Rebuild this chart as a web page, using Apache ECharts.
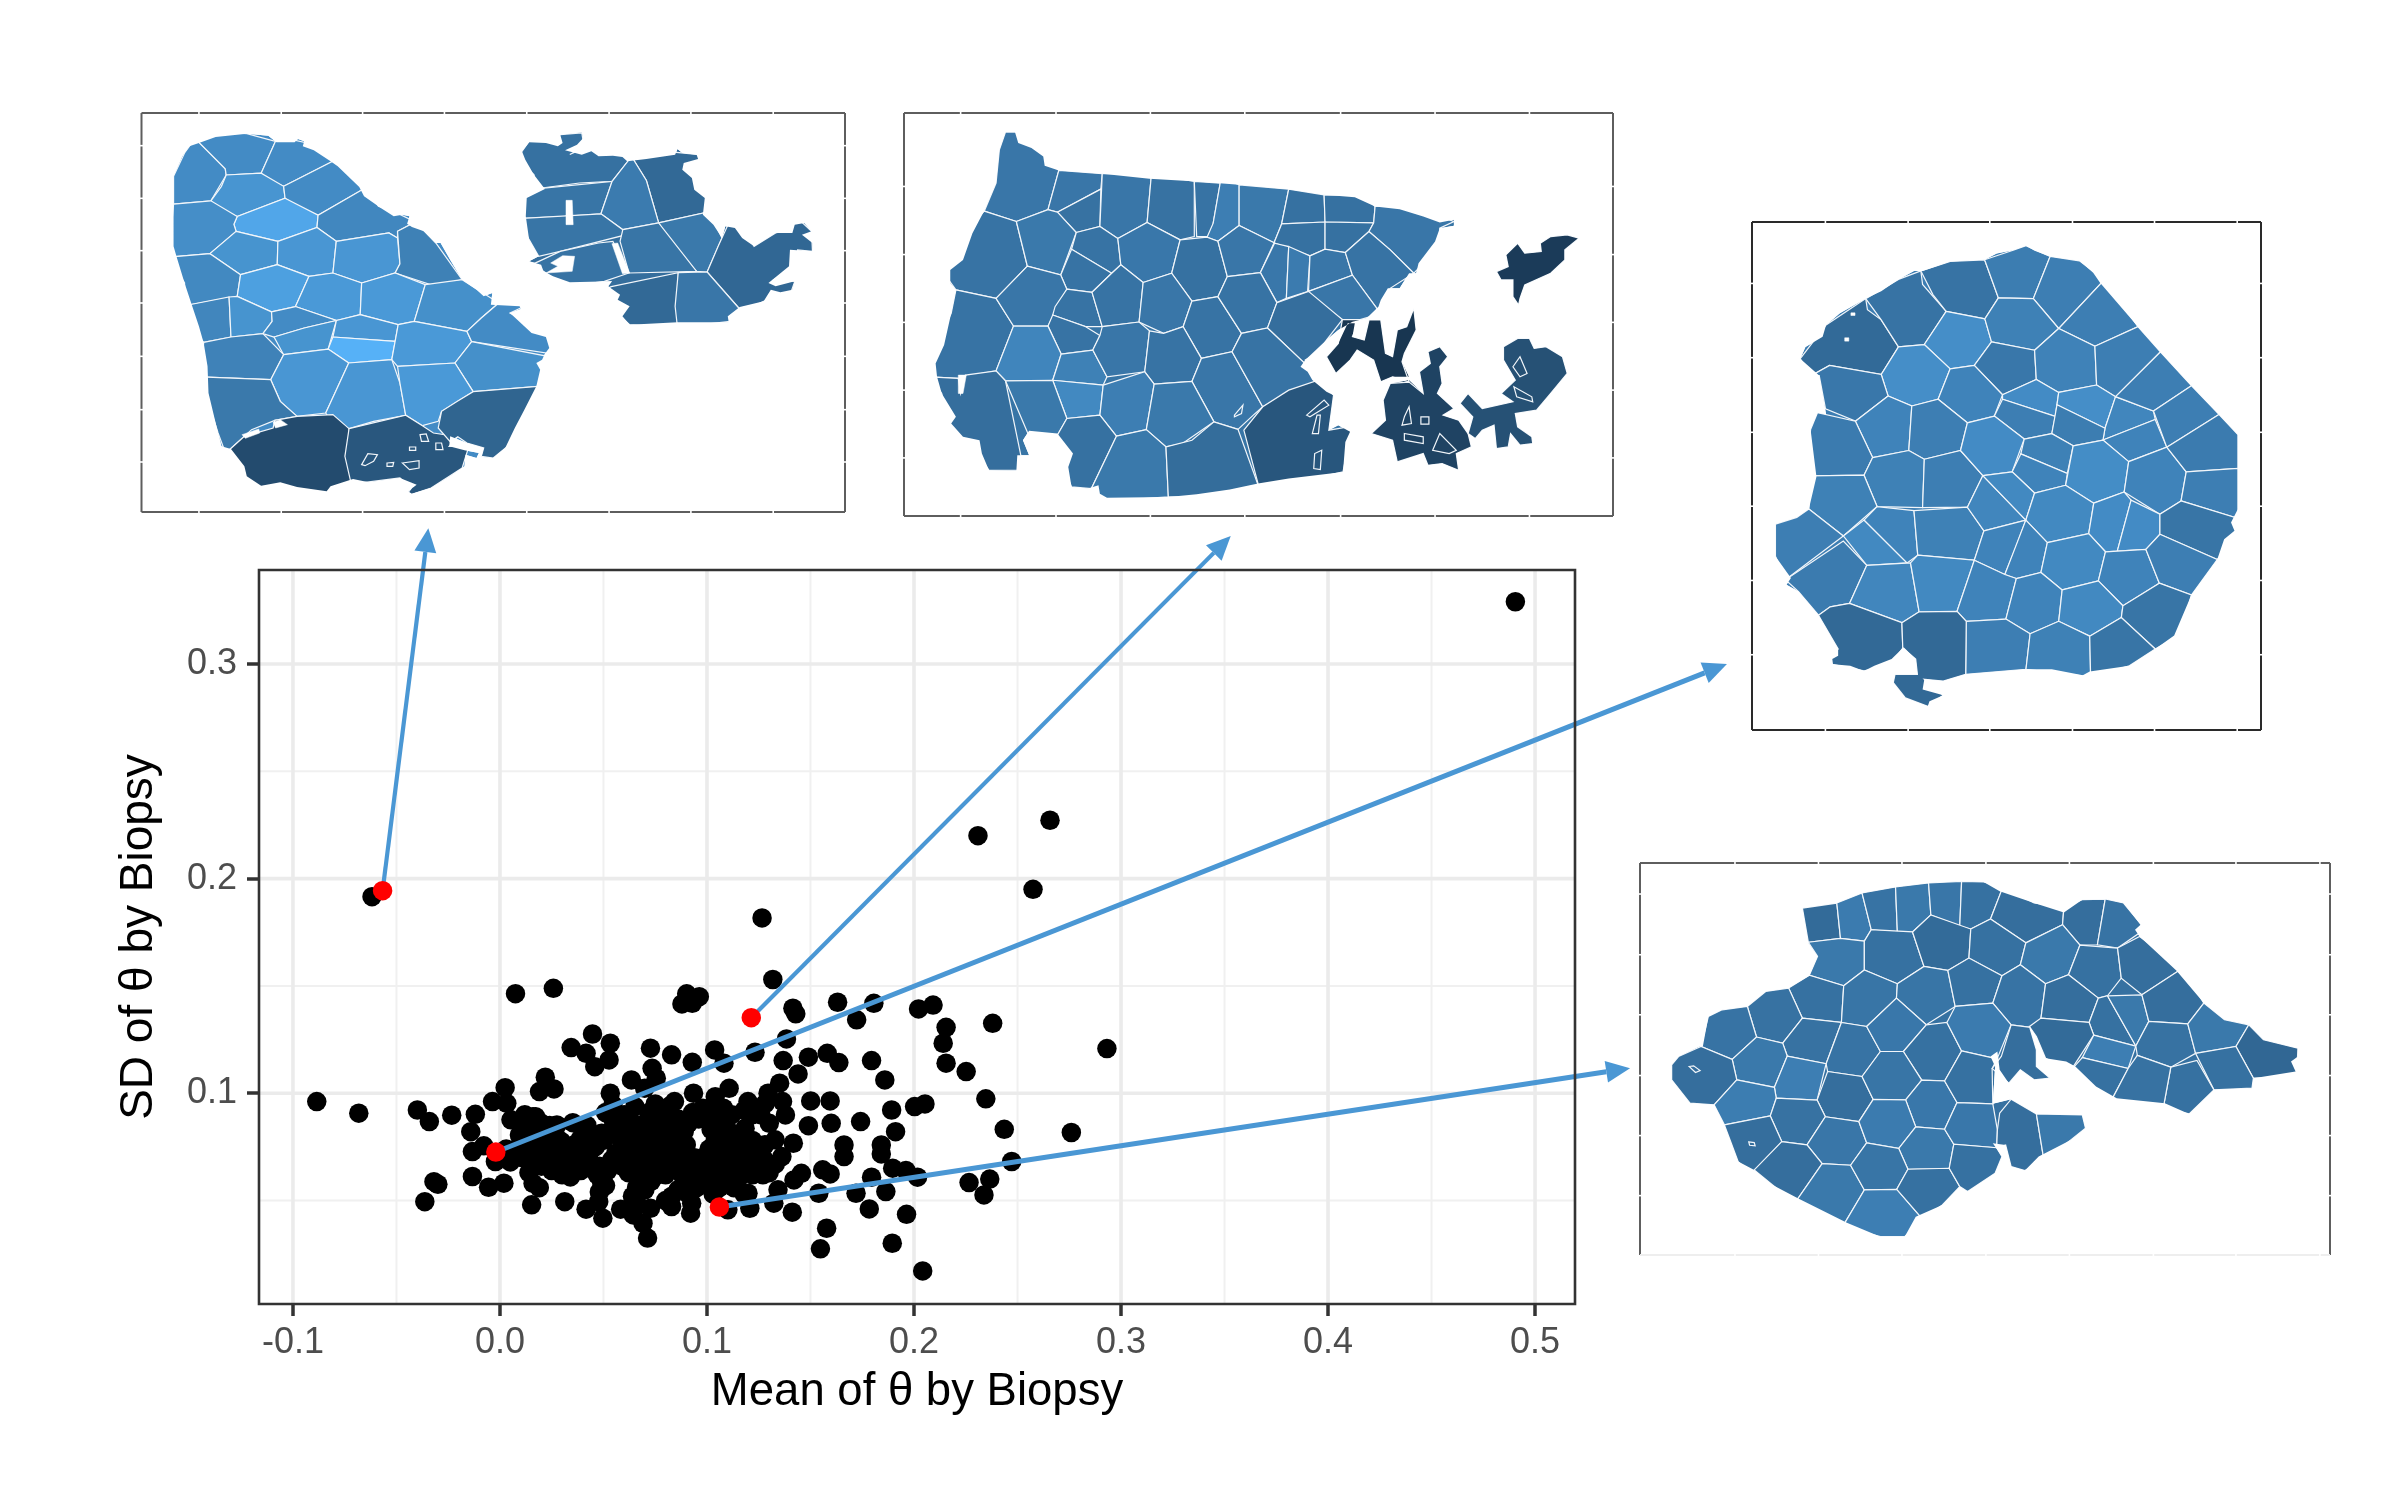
<!DOCTYPE html>
<html>
<head>
<meta charset="utf-8">
<script src="https://cdn.jsdelivr.net/npm/echarts@6/dist/echarts.min.js"></script>
<style>html,body{margin:0;padding:0;background:#fff}#c{width:2400px;height:1500px}</style>
</head>
<body>
<div id="c"></div>
<script>
// ---------- Scatter data: [mean of theta, SD of theta] per biopsy ----------
const blackPoints = [
[.4905,.329],[.2657,.2272],[.2309,.22],[.2575,.195],[.1266,.1817],[-.0618,.1916],[.1318,.153],
[.0075,.1464],[.0258,.1489],[.0902,.1463],[.0963,.145],[.0879,.1416],[.0929,.1419],[.1415,.1396],[.1429,.137],[.1631,.1424],[.1806,.1419],[.2022,.1393],[.2092,.1411],[.1723,.1342],[.2155,.1307],[.238,.1326],[.2932,.1208],[.2141,.1233],[.2155,.114],[.2252,.1101],[.2347,.0974],[.2436,.0832],[.276,.0817],[.2472,.0682],[.2266,.0584],[.2366,.06],[.2338,.0526],[.2017,.0609],[.1961,.064],[.1897,.0651],[.1964,.0436],[.1895,.0301],[.2042,.0172],[.1548,.0275],[.1578,.0371],[.1784,.0461],[.1864,.0542],[.172,.0534],[.1795,.0609],[.1911,.0821],[.1842,.0759],[.1842,.0717],[.1742,.0868],[.1892,.0922],[.2003,.0938],[.2053,.095],[.1859,.1062],[.1795,.1152],[.1637,.1143],[.1581,.1186],[.149,.1168],[.144,.109],[.1368,.1152],[.1384,.1253],[.1232,.1191],[.1082,.114],[.1037,.1202],[.0929,.1144],[.0829,.1179],[.0727,.121],[.0735,.1116],[.0755,.107],[.0635,.1062],[.0699,.1023],[.0527,.1155],[.0533,.1233],[.0447,.1276],[.0458,.1124],[.0416,.1186],[.0344,.1213],[.0219,.1075],[.0261,.102],[.0191,.1008],[.0025,.1026],[-.0036,.0961],[.0033,.0953],[-.0885,.0961],[-.0682,.0907],[-.0399,.0922],[-.0341,.0868],[-.0233,.0898],[-.0119,.0902],[-.0141,.0821],[.0053,.0876],[-.0078,.0755],[-.0133,.0728],[-.0022,.0682],[-.0133,.0612],[-.0055,.0562],[.0019,.0581],[-.0319,.0588],[-.03,.0576],[-.0363,.0495],[.0153,.048],[.0313,.0495],[.0416,.046],[.0477,.0495],[.0497,.0418],[.0583,.046],[.0644,.0433],[.0691,.0394],[.0727,.0464],[.0713,.0325],[.0829,.0472],[.0921,.0441],[.0926,.0488],[.1101,.0457],[.1207,.0464],[.1198,.0534],[.1343,.055],[.1323,.0488],[.1412,.0446],[.154,.0534],[.1559,.0643],[.1595,.0624],[.1456,.0627],[.142,.0596],[.1295,.0643],[.1362,.0705],[.1329,.0783],[.1417,.0767],[.1301,.086],[.1379,.0899],[.1501,.0964],[.1595,.0964],[.149,.0849],[.16,.086],[.1662,.0759],[.1662,.0705],[.1351,.1047],[.1295,.1],[.1365,.0961],[.1107,.1023],[.104,.0984],[.1198,.0961],[.0935,.1],[.0843,.0961],[.0768,.0907],[.0652,.0938],[.0533,.1],[.0546,.0946],[.0546,.0876],[.1184,.0837],[.1082,.0852],[.0352,.0863],[.0275,.0852],[.0172,.0891],[.0158,.0845],[.0094,.0806],[.0297,.0775],[.0394,.0744],[.0491,.0814],[.0644,.0829],
[.014,.083],[.018,.078],[.021,.074],[.024,.071],[.017,.069],[.02,.066],[.014,.063],[.016,.058],[.019,.056],[.025,.064],[.028,.068],[.031,.073],[.033,.069],[.036,.066],[.03,.062],[.034,.061],[.039,.064],[.038,.07],[.041,.068],[.043,.072],[.046,.075],[.044,.066],[.047,.062],[.049,.059],[.051,.057],[.048,.054],[.052,.064],[.054,.069],[.056,.072],[.05,.078],[.053,.082],[.056,.086],[.051,.091],[.058,.079],[.061,.076],[.063,.072],[.059,.066],[.062,.063],[.065,.067],[.067,.07],[.069,.074],[.066,.08],[.07,.078],[.073,.081],[.076,.077],[.078,.073],[.074,.069],[.071,.065],[.068,.06],[.066,.056],[.064,.052],[.066,.049],[.07,.055],[.073,.059],[.076,.062],[.079,.066],[.081,.07],[.084,.074],[.08,.08],[.083,.084],[.086,.088],[.079,.09],[.082,.094],[.086,.078],[.089,.082],[.091,.086],[.093,.091],[.096,.088],[.09,.076],[.087,.07],[.085,.065],[.088,.062],[.09,.058],[.086,.055],[.083,.052],[.08,.05],[.092,.066],[.093,.061],[.095,.056],[.091,.053],[.098,.07],[.101,.074],[.104,.078],[.102,.083],[.106,.072],[.109,.076],[.112,.079],[.108,.068],[.105,.065],[.102,.062],[.1,.066],[.107,.061],[.11,.058],[.106,.056],[.103,.053],[.112,.063],[.114,.068],[.116,.072],[.119,.075],[.122,.078],[.12,.069],[.117,.065],[.115,.06],[.113,.056],[.118,.053],[.122,.062],[.125,.066],[.124,.072],[.127,.07],[.128,.076],[.13,.063],[.133,.067],[.112,.09],[.108,.093],[.104,.092],[.1,.089],[.098,.093],[.118,.092],[.122,.09],[.126,.09],[.128,.095],[.07,.086],[.072,.091],[.075,.095],[.062,.085],[.06,.09],[.046,.08],[.042,.085],[.039,.079],[.036,.076],[.027,.08],[.024,.085],[.012,.09],[.009,.075],[.011,.07],[.007,.072],[.003,.074],[.005,.068],[.015,.073],[.016,.089],[.02,.086],[.013,.086],
[.013,.076],[.017,.075],[.02,.081],[.023,.078],[.027,.075],[.029,.071],[.032,.066],[.035,.072],[.04,.073],[.048,.066],[.074,.064],[.08,.062],[.082,.066],[.088,.073],[.094,.07],[.096,.065],[.099,.061],[.1,.058],[.103,.07],[.106,.068],[.109,.072],[.111,.068],[.113,.072],[.116,.076],[.118,.07],[.12,.065],[.123,.07],[.125,.075],[.127,.062],[.11,.083],[.106,.084],[.075,.085],[.078,.086],[.072,.084],[.06,.082],[.064,.086],[.058,.084]
];
const redPoints = [[-.0567,.1944],[.1214,.1352],[-.002,.0726],[.106,.047]];
const arrowTargets = [[-.0346,.3633],[.353,.3597],[.5927,.3],[.5459,.1117]];
const xTicks = [-0.1,0,0.1,0.2,0.3,0.4,0.5];
const yTicks = [0.1,0.2,0.3];
const xMinor = [-0.05,0.05,0.15,0.25,0.35,0.45];
const yMinor = [0.05,0.15,0.25];
const xTitle = 'Mean of θ by Biopsy';
const yTitle = 'SD of θ by Biopsy';

// ---------- Inset tissue maps: flat [x,y,...] outlines in each inset's own units; shade = fill value 0..1, -1 = gap ----------
const cells1 = [
[165,135,222,210,222,225,190,305,112,312,112,230,135,160],
[165,130,200,110,265,102,325,125,295,222,222,225,218,205],
[325,125,370,130,400,150,440,190,342,258,310,240,295,218],
[222,228,295,222,342,262,345,295,245,350,205,325,190,300,212,260],
[440,195,500,265,415,345,370,320,345,295,342,260],
[345,297,415,350,405,380,330,425,245,395,238,372,245,352],
[112,315,190,305,245,350,238,375,240,395,188,462,112,470],
[500,270,540,320,575,370,605,378,580,395,580,415,562,400,452,425,415,385,412,345],
[243,395,330,425,328,495,252,525,188,462],
[330,425,415,385,452,425,445,520,395,530,330,495],
[452,425,562,400,580,415,585,495,575,520,505,550,445,520],
[580,395,605,380,660,430,715,540,660,560,575,520,585,490],
[118,470,188,462,252,525,245,590,148,615,135,550],
[252,525,328,495,395,530,370,620,315,635,245,590],
[395,530,445,520,505,550,502,645,450,660,365,620],
[505,550,575,520,638,555,615,665,580,675,502,645],
[638,555,715,540,775,605,755,655,725,695,615,665],
[148,615,228,592,232,712,175,728,168,680],
[228,592,245,590,315,635,318,665,298,700,232,712],
[320,640,365,622,452,660,385,685,322,712,298,700,318,665],
[322,712,385,685,452,670,435,750,342,765],
[455,660,502,645,582,675,575,725,445,712],
[445,712,575,725,568,780,478,790,435,745],
[582,675,615,665,725,695,735,725,700,790,580,800,568,780],
[175,728,232,712,300,705,342,765,315,840,185,830],
[725,695,755,655,775,612,835,622,815,640,890,715,895,750,890,762,735,725],
[735,728,880,765,875,855,738,875,700,790],
[342,765,435,750,478,790,430,940,370,950,335,905,315,840],
[478,790,568,780,585,850,597,945,530,965,480,985,445,975,430,940],
[580,800,700,790,738,875,672,935,665,965,632,978,597,945,585,850],
[185,832,315,840,335,905,370,950,322,962,275,990,228,1040,205,1000],
[228,1045,260,1010,320,985,325,962,370,950,445,945,478,988,490,1135,440,1175,370,1160,290,1158,260,1120,240,1075],
[478,988,597,950,632,978,655,1000,690,1010,688,1040,725,1055,715,1105,650,1165,605,1180,615,1155,585,1135,488,1135,470,1070],
[738,878,870,858,860,890,820,1010,780,1075,755,1070,760,1045,725,1030,685,1010,690,995,665,985,672,935,705,905],
[505,1095,518,1062,538,1065,530,1085,512,1098],[590,1090,625,1083,625,1105,605,1110],[627,1005,640,1003,645,1025,630,1025],[660,1030,672,1030,675,1050,660,1050],[605,1042,618,1042,618,1052,605,1052],[558,1090,572,1088,570,1100,558,1100],
[840,155,860,130,900,140,925,135,920,105,965,100,960,135,930,150,980,165,1035,170,1050,185,1030,245,960,250,890,255,865,225,845,180],
[1055,175,1100,185,1160,160,1205,170,1175,205,1195,240,1220,290,1218,345,1128,365,1100,240],
[850,355,855,290,890,258,1025,245,1005,340,930,350],
[1052,190,1100,245,1125,365,1125,375,1050,390,1005,345,1030,245],
[850,355,1005,342,1050,390,1050,408,920,450,875,470,855,420],
[1125,370,1218,347,1258,415,1228,515,1205,515,1150,430],
[1052,390,1125,372,1205,515,1065,520,1045,425],
[858,485,920,460,1000,430,1030,425,1062,520,1030,545,940,545,885,515],
[1270,380,1290,400,1325,440,1370,400,1405,395,1420,370,1445,395,1447,455,1395,450,1400,500,1360,550,1410,545,1395,575,1345,605,1295,620,1228,518,1250,440],
[1030,525,1165,518,1160,665,1065,675,1050,645,1065,615,1040,590,1022,560],
[1168,520,1225,518,1295,622,1270,665,1170,665,1160,620],
[932,302,945,302,947,375,932,375],[1028,432,1040,430,1065,520,1050,522],[900,490,925,468,950,470,945,515,890,520,915,500],[255,1005,290,988,292,1000,262,1016],[320,968,335,960,350,975,325,985]
];
const shades1 = [.72,.72,.72,.79,.72,.92,.74,.69,.78,.8,.8,.64,.7,.87,.82,.82,.75,.68,.78,.72,.78,.8,1,.82,.65,.72,.75,.8,.8,.82,.58,.24,.33,.43,.33,.33,.33,.33,.33,.33,.52,.46,.55,.6,.55,.58,.55,.54,.45,.46,.56,-1,-1,-1,-1,-1];
const outlines1 = [
[165,130,200,112,265,102,310,108,327,128,365,128,372,118,385,125,382,140,405,152,440,185,455,200,500,262,510,290,545,325,572,350,590,345,605,350,600,372,610,382,635,395,660,430,670,430,690,480,715,540,745,570,760,590,778,580,775,615,835,620,838,628,815,640,860,700,890,712,897,745,888,762,882,780,870,790,878,810,870,860,845,930,825,985,805,1045,780,1075,755,1072,760,1045,725,1030,690,1010,688,1040,720,1052,750,1060,745,1075,722,1065,720,1100,690,1130,650,1165,610,1182,602,1175,620,1155,585,1135,520,1148,487,1138,440,1160,432,1175,370,1162,335,1148,295,1158,265,1130,260,1100,232,1048,212,1040,205,1000,185,880,183,800,175,730,165,680,150,615,135,550,118,470,112,440,112,230,130,170,145,140],
[840,155,855,128,890,130,915,140,925,130,920,105,965,98,968,115,955,135,930,152,965,165,985,155,1000,170,1030,168,1050,172,1060,185,1100,178,1160,165,1165,148,1175,160,1205,165,1208,178,1178,190,1175,210,1195,235,1200,270,1222,295,1218,345,1240,375,1258,415,1265,380,1285,385,1300,415,1325,440,1370,400,1405,400,1410,375,1430,370,1445,395,1425,405,1447,430,1447,455,1400,450,1398,500,1355,550,1370,560,1410,545,1405,570,1380,578,1360,570,1345,605,1295,622,1270,650,1272,668,1165,668,1065,675,1050,650,1065,620,1040,600,1045,585,1020,560,1028,545,940,548,905,530,885,515,880,495,855,485,875,470,855,420,848,350,850,295,888,268,865,225,847,180]
];
const outlineShades1 = [.72,.5];

const cells2 = [
[245,97,265,100,325,165,330,200,358,212,335,330,268,365,200,333,225,250,232,150],
[358,212,450,222,447,268,355,335,335,328],
[447,268,445,380,395,398,355,338],
[450,222,553,238,545,368,483,415,445,380],
[553,238,645,245,645,410,615,420,545,368],
[645,245,700,250,680,410,650,410],
[700,250,740,255,740,375,695,422,672,412,685,370],
[740,255,845,268,830,370,812,428,740,378],
[845,268,920,285,922,368,830,372],
[920,285,1000,300,1028,320,1025,367,922,362],
[830,375,922,368,922,448,890,468,815,428],
[922,368,1025,370,1015,395,965,458,922,448],
[1028,320,1080,330,1165,365,1195,365,1165,385,1150,430,1110,520,1060,450,1015,395,1025,370],
[200,335,268,365,290,498,225,595,140,570,130,515,160,470,178,400],
[268,365,335,330,355,338,395,398,362,525,292,498],
[395,398,445,380,483,415,488,490,470,520,385,448],
[385,448,470,520,430,575,375,565,362,525],
[483,418,545,368,615,420,597,520,540,550,490,495],
[615,420,672,412,695,425,715,530,695,590,640,605,597,520],
[695,425,740,378,815,430,785,518,715,530],
[815,430,845,440,840,595,820,608,785,518],
[845,440,890,468,885,575,840,595],
[890,468,922,448,965,458,980,525,888,570],
[965,458,1015,395,1060,450,1110,520,1060,565,1030,625,1012,620,980,525],
[888,575,980,528,1010,620,990,665,965,665,890,590],
[140,570,225,595,262,678,225,810,175,825,145,835,105,828,100,790,120,730,130,640],
[225,595,292,500,362,525,375,570,335,675,262,678],
[375,568,425,578,450,680,415,680,345,645,350,620],
[345,645,415,680,445,708,430,750,365,762,335,680],
[430,578,470,520,490,498,535,545,527,665,450,680],
[535,548,597,520,640,600,620,680,580,700,530,665],
[640,605,695,590,745,700,725,755,660,775,622,680],
[695,590,715,530,785,518,820,608,800,682,745,700],
[820,608,885,578,965,665,925,720,865,790,800,685],
[262,678,335,680,362,762,345,838,245,842,225,812],
[362,762,430,750,460,830,452,855,345,840],
[450,680,527,668,550,690,540,815,460,830,430,750,445,705],
[550,695,580,700,622,680,660,775,640,842,560,852,540,815],
[660,775,725,755,790,920,770,945,735,985,690,965,640,845],
[725,755,745,700,800,685,865,790,890,855,835,885,790,920],
[345,842,452,855,445,945,375,955],
[100,830,145,835,150,880,160,825,225,815,245,842,275,1110,210,1110,190,1040,130,975,110,880],
[245,842,345,842,375,955,350,1002,295,995,270,1040],
[452,855,540,815,560,852,545,985,480,1008,445,945],
[560,852,640,845,680,965,620,1030,585,1040,540,990],
[375,955,445,945,480,1008,445,1160,385,1160,380,1095,388,1050,355,1000],
[480,1008,545,990,585,1040,590,1190,460,1190,445,1165],
[585,1040,640,1020,690,965,740,990,778,1155,690,1172,590,1190],
[750,990,790,920,845,870,895,855,940,885,930,990,970,990,960,1115,845,1130,780,1150],
[880,780,930,740,925,760,930,790,890,815],
[1285,515,1310,500,1305,465,1330,430,1345,460,1380,455,1378,430,1400,410,1435,405,1460,415,1430,450,1430,480,1400,520,1345,555,1335,595,1332,615,1320,590,1320,540,1295,540],
[970,670,985,670,980,710,1005,720,1015,660,1040,660,1050,760,1065,770,1075,690,1095,680,1110,625,1115,690,1090,760,1085,785,1100,830,1065,830,1040,845,1025,780,990,750,975,780,945,820,925,770,950,730],
[1060,850,1100,840,1130,880,1122,815,1145,790,1140,755,1165,740,1182,770,1165,800,1170,850,1160,880,1195,925,1172,945,1205,960,1225,1000,1232,1040,1200,1060,1205,1110,1170,1090,1140,1095,1130,1060,1075,1085,1065,1020,1020,1000,1050,960,1045,900],
[1208,910,1225,880,1255,925,1320,905,1295,880,1325,840,1300,780,1300,740,1330,715,1355,715,1365,745,1390,740,1425,770,1435,820,1400,880,1370,930,1325,940,1330,980,1360,1010,1362,1030,1335,1035,1315,1000,1310,1040,1285,1045,1280,975,1255,990,1240,1015,1225,1000,1235,950],
[883,945,920,900,930,915,890,950],[895,1000,905,945,912,945,908,1000],[898,1105,900,1060,915,1050,912,1108],[1090,950,1100,920,1105,970,1085,975],[1125,950,1142,950,1142,972,1125,972],[1090,1000,1130,1010,1130,1030,1090,1020],[1150,1050,1165,1000,1200,1050,1185,1060],[1320,800,1335,770,1350,820,1335,830],[1322,860,1360,890,1362,905,1328,890],[730,945,748,915,745,940,730,950],
[145,825,162,825,155,880,145,880]
];
const shades2 = [.56,.56,.53,.56,.53,.54,.62,.58,.52,.52,.52,.52,.56,.54,.58,.54,.54,.57,.52,.56,.57,.6,.56,.54,.56,.54,.56,.54,.54,.54,.56,.54,.54,.5,.67,.64,.56,.54,.56,.54,.7,.5,.58,.62,.58,.52,.58,.49,.32,.5,.12,.08,.18,.28,.32,.32,.32,.18,.18,.18,.18,.28,.28,.54,-1];
const outlines2 = [
[245,97,265,97,272,130,300,145,325,170,328,198,358,212,450,222,550,237,650,245,740,255,845,268,920,285,985,292,1028,320,1080,328,1130,350,1165,368,1195,360,1195,378,1165,385,1155,425,1120,490,1115,520,1100,520,1080,565,1055,565,1040,600,1035,620,1010,655,980,665,950,690,925,720,880,780,870,800,885,815,895,840,925,875,940,885,930,990,950,975,975,995,965,1025,960,1115,845,1135,780,1150,720,1168,650,1182,590,1190,460,1192,445,1180,442,1155,420,1165,385,1160,378,1100,388,1060,355,1000,295,992,282,1020,295,1065,270,1065,268,1112,210,1110,195,1060,190,1020,155,1010,130,970,140,950,110,880,100,830,97,790,115,735,130,640,140,570,128,550,128,510,155,480,175,400,200,333,225,250,232,150],
cells2[50],cells2[51],cells2[52],cells2[53]
];
const outlineShades2 = [.55,.12,.08,.18,.28];

const cells3 = [
[175,440,250,340,365,262,370,295,410,325,460,405,410,485,260,460,225,470],
[365,262,460,205,525,180,530,220,595,298,535,398,460,405,410,325],
[525,180,610,152,710,147,750,260,710,322,600,300,560,250],
[710,147,795,118,830,105,900,137,852,262,750,260],
[900,137,985,150,1045,215,925,350,850,262],
[600,302,710,322,730,390,680,460,610,470,535,398],
[750,260,852,262,925,350,855,415,730,390,712,322],
[1045,218,1155,345,1030,403,925,350],
[460,405,535,398,610,470,575,560,500,580,430,550,410,490],
[730,390,855,415,860,500,762,545,680,460],
[855,415,925,352,1030,403,1035,518,925,540,860,500],
[1030,403,1155,345,1220,420,1090,550,1035,518],
[230,490,225,470,260,460,410,485,430,550,335,625,245,605],
[610,470,680,460,762,545,735,610,660,630,575,560],
[762,550,860,505,925,540,915,610,762,560],
[925,540,1035,518,1090,555,1060,645,920,575],
[1090,555,1200,595,1205,620,1055,680,1060,645],
[1220,420,1310,520,1200,595,1090,550],
[335,625,430,552,498,580,490,712,385,733],
[498,580,575,560,660,630,640,712,535,738,490,712],
[745,610,762,560,915,612,905,662,825,678],
[920,578,1058,648,1052,682,965,698,905,662],
[1055,680,1205,620,1238,702,1128,745],
[1200,595,1310,520,1390,605,1238,702],
[205,650,225,600,335,625,385,733,360,785,225,785,215,720],
[385,733,490,712,535,738,530,880,398,878,360,785],
[535,738,640,712,705,785,660,880,530,882],
[640,712,660,630,735,610,825,678,790,775,705,785],
[825,678,905,662,968,698,950,780,815,722],
[815,722,950,780,945,815,855,838,790,775],
[968,698,1052,682,1128,745,1115,835,1020,868,945,815],
[1128,745,1238,702,1295,775,1280,860,1220,900,1115,835],
[1240,702,1390,605,1445,665,1445,765,1295,775],
[1295,775,1445,765,1445,885,1430,905,1280,862],
[222,785,360,785,398,878,300,965,200,885],
[103,930,165,910,200,885,300,965,148,1085,103,1025],
[300,965,360,918,480,1045,368,1052],
[360,918,398,878,505,890,515,1022,490,1045],
[505,890,660,880,708,950,680,1037,515,1022],
[660,880,705,790,828,918,708,950],
[705,785,790,775,855,838,830,918],
[855,838,945,815,1030,868,1012,958,892,985,830,918],
[1030,868,1115,835,1135,858,1095,1010,1062,1012,1012,958],
[1135,860,1218,902,1218,960,1178,1005,1095,1010],
[1280,862,1430,905,1430,960,1385,1035,1220,960,1218,900],
[708,950,830,918,800,1000,768,1078,680,1037],
[830,918,892,985,870,1070,802,1090,768,1080],
[892,985,1012,958,1060,1012,1040,1098,935,1125,875,1075],
[1060,1012,1178,1005,1215,1105,1112,1172,1040,1098],
[1218,960,1385,1035,1310,1140,1218,1105,1178,1005],
[145,1085,300,980,368,1052,318,1165,262,1175,228,1200,170,1130],
[368,1052,495,1045,520,1190,470,1222,318,1165],
[495,1045,518,1022,680,1037,630,1190,520,1190],
[680,1037,770,1080,802,1092,770,1212,655,1218,630,1185],
[802,1092,875,1075,935,1125,925,1218,842,1255,775,1210],
[935,1125,1040,1098,1110,1172,1105,1208,1015,1262,925,1218],
[1218,1105,1310,1140,1260,1250,1205,1300,1110,1205,1112,1172],
[655,1218,770,1212,842,1255,830,1360,655,1375],
[842,1255,925,1218,1015,1262,1015,1365,830,1360],
[1015,1262,1105,1208,1205,1300,1130,1350,1015,1365],
[228,1200,262,1175,318,1165,470,1222,470,1300,430,1335,360,1365,270,1340,285,1300],
[470,1222,520,1190,630,1190,660,1218,655,1375,590,1395,535,1390,590,1437,545,1470,480,1445,445,1400,450,1375,515,1375,510,1330,475,1295],
[322,304,334,304,334,312,322,312],[304,378,316,378,316,388,304,388]
];
const shades3 = [.47,.54,.54,.61,.62,.74,.64,.62,.74,.57,.65,.62,.57,.66,.72,.74,.68,.62,.66,.62,.62,.61,.66,.62,.6,.64,.62,.72,.64,.66,.73,.66,.6,.62,.64,.62,.7,.66,.64,.68,.7,.7,.72,.72,.55,.66,.66,.7,.66,.62,.6,.68,.7,.66,.66,.7,.55,.62,.64,.55,.46,.46,-1,-1];
const outlines3 = [
[175,440,190,405,240,375,250,340,290,305,365,262,410,240,460,205,505,180,530,180,610,152,710,147,745,128,795,118,830,105,855,120,900,137,985,150,1025,185,1045,215,1155,345,1220,420,1310,520,1390,605,1445,665,1445,885,1425,925,1435,950,1405,975,1385,1035,1310,1140,1260,1260,1205,1300,1130,1350,1015,1367,995,1378,905,1360,830,1360,655,1375,590,1395,535,1390,530,1420,590,1437,550,1455,545,1470,480,1445,445,1400,450,1375,515,1375,510,1330,475,1295,440,1330,390,1350,360,1365,320,1350,270,1345,268,1330,285,1320,285,1300,228,1200,170,1130,135,1110,148,1090,103,1025,103,930,165,910,200,885,222,790,205,650,225,600,250,605,230,490]
];
const outlineShades3 = [.62];

const cells4 = [
[375,175,450,160,458,265,388,275],
[450,160,505,130,525,240,510,272,458,265],
[505,130,578,112,582,248,525,240],
[578,112,650,100,655,195,615,245,582,248],
[650,100,722,95,718,230,655,195],
[722,95,770,97,805,128,785,208,742,238,718,230],
[805,125,880,160,945,190,942,225,862,278,785,208],
[945,190,985,150,1035,148,1018,285,980,285,942,225],
[1035,148,1075,160,1112,230,1062,295,1018,285],
[388,280,458,268,510,275,510,360,465,408,390,375,408,320],
[510,275,525,240,615,250,640,350,582,402,510,360],
[615,245,655,197,742,238,738,325,692,362,640,350],
[742,238,785,208,862,280,850,345,810,378,738,325],
[862,280,942,225,980,285,955,375,905,402,850,345],
[980,288,1062,295,1070,385,1040,438,1020,445,955,375],
[1062,295,1110,260,1190,362,1115,435,1070,385],
[345,415,390,378,465,408,460,518,375,505],
[465,408,510,362,582,402,580,445,515,530,460,518],
[582,402,640,350,692,362,708,470,645,525,580,445],
[692,362,738,325,810,378,790,460,708,470],
[810,378,850,345,905,402,895,505,855,525,830,522,790,460],
[905,402,955,375,1020,445,1000,518,895,505],
[1020,445,1040,438,1100,585,1010,555,1000,518],
[1040,438,1115,435,1130,515,1100,585],
[1190,365,1250,460,1215,522,1130,515,1115,435],
[255,470,295,425,345,415,375,505,332,580,275,560],
[375,505,460,518,425,640,342,618,332,580],
[460,518,515,530,545,605,505,680,430,665,425,640],
[515,530,580,445,645,525,595,605,545,605],
[645,525,690,518,722,600,685,690,635,690,595,605],
[708,470,790,460,830,525,775,615,722,600,690,518],
[170,500,200,480,255,470,275,560,222,628,158,590],
[222,628,275,565,332,580,342,618,312,710,232,690],
[342,620,430,645,405,750,318,745,312,712],
[430,665,505,680,528,748,498,815,425,800,408,750],
[505,680,545,605,595,605,635,690,600,750,530,748],
[635,692,685,695,712,758,685,838,622,830,600,750],
[685,695,722,610,775,615,795,650,790,762,712,758],
[795,605,830,528,855,525,870,530,885,600,885,650,915,685,880,690,850,660,825,700,805,660],
[895,505,1000,518,1010,555,968,650,905,625,885,560,870,530],
[1010,558,1105,595,1085,655,985,622],
[985,625,1085,658,1058,735,1020,725,970,650],
[1130,515,1215,522,1232,610,1178,652,1105,615,1102,590],
[1250,460,1295,510,1348,525,1320,590,1232,610,1215,522],
[1348,525,1380,570,1455,595,1450,670,1358,685,1320,590],
[1232,612,1320,590,1358,685,1355,715,1272,720],
[1178,652,1235,632,1272,720,1218,792,1165,760],
[1105,618,1178,652,1162,762,1060,745,1085,655],
[90,645,105,620,150,590,222,630,232,690,182,765,130,760,90,690],
[232,690,318,715,318,745,305,798,205,825,183,765],
[318,745,408,752,425,800,385,885,330,875,305,798],
[425,802,498,815,515,878,480,945,418,940,385,885],
[498,815,530,750,600,750,622,830,585,895,515,878],
[622,832,685,838,705,882,695,955,605,958,585,895],
[712,758,790,762,800,840,785,872,705,882,685,838],
[205,825,305,798,330,875,285,960,235,935,220,880],
[330,875,385,885,418,940,375,1040,310,1005,270,960],
[418,943,480,948,510,1020,472,1115,365,1045],
[480,945,515,880,585,897,605,958,580,1018,510,1020],
[510,1020,580,1018,618,1100,598,1160,545,1160,472,1118],
[605,958,695,955,718,1010,680,1065,622,1100,582,1018],
[695,955,705,885,785,872,810,920,795,970,735,1025,718,1010],
[805,790,830,748,885,792,888,925,860,962,830,950,818,885,790,880,800,840],
[885,792,985,795,992,835,960,870,890,920],
[128,650,138,648,152,662,142,668],[258,876,270,878,272,888,260,886]
];
const shades4 = [.48,.6,.54,.58,.56,.52,.5,.5,.54,.58,.52,.48,.52,.58,.52,.5,.52,.55,.55,.52,.54,.5,.52,.58,.5,.53,.53,.54,.57,.52,.6,.54,.58,.62,.5,.55,.57,.52,.5,.48,.62,.52,.53,.58,.45,.52,.52,.53,.5,.61,.53,.56,.6,.58,.57,.5,.5,.58,.55,.62,.52,.52,.5,.58,.5,.5];
const outlines4 = [
[375,175,450,160,505,130,578,112,650,100,722,95,770,97,805,125,880,160,945,188,985,150,1035,148,1075,160,1112,225,1100,240,1110,260,1190,362,1250,460,1295,510,1348,525,1380,570,1455,595,1455,620,1440,635,1450,665,1358,685,1355,715,1272,720,1218,792,1165,760,1060,745,1015,710,970,650,950,635,905,625,885,560,870,530,885,600,885,650,915,685,880,690,850,660,825,700,805,660,800,605,785,620,795,650,790,762,830,748,885,792,985,795,992,835,960,870,890,920,860,962,830,950,818,885,790,880,810,920,795,970,735,1025,718,1010,680,1065,622,1100,598,1160,545,1160,472,1118,365,1045,310,1005,270,960,235,935,220,880,205,825,183,765,130,760,90,690,90,645,105,620,150,590,158,590,170,500,200,480,255,470,295,425,345,415,390,378,408,320,388,280]
];
const outlineShades4 = [.52];

const insetFrames = {
  top1:[165,337,507,678,850,1022,1193,1365], side1:[138,296,453,610,770,930,1087],
  top2:[150,352,552,752,955,1155,1355], side2:[260,464,667,870,1073],
  top3:[248,488,725,965,1203,1443], side3:[217,437,658,877,1097,1317],
  top4:[228,410,592,775,957,1140,1320,1503], side4:[133,315,495,677,857,1037]
};

// ---------- Layout and styling ----------
const lowColor = '#132B43', highColor = '#56B1F7';
const arrowColor = '#4A97D4';
const arrowWidths = [4.2,4.2,5,5];
const fontFamily = '"Liberation Sans", Arial, sans-serif';
const insets = [
  {cells:cells1,shades:shades1,outlines:outlines1,oshades:outlineShades1,left:141.5,top:113,width:703.5,height:399,xr:[45,1515],yr:[40,1237],tx:insetFrames.top1,ty:insetFrames.side1,color:'#5e5e5e',bottom:'#5e5e5e'},
  {cells:cells2,shades:shades2,outlines:outlines2,oshades:outlineShades2,left:904,top:113,width:709,height:403,xr:[30,1532],yr:[40,1247],tx:insetFrames.top2,ty:insetFrames.side2,color:'#5e5e5e',bottom:'#5e5e5e'},
  {cells:cells3,shades:shades3,outlines:outlines3,oshades:outlineShades3,left:1752,top:222,width:509,height:508,xr:[35,1512],yr:[35,1540],tx:insetFrames.top3,ty:insetFrames.side3,color:'#2a2a2a',bottom:'#2a2a2a'},
  {cells:cells4,shades:shades4,outlines:outlines4,oshades:outlineShades4,left:1640,top:863,width:690,height:392,xr:[21,1525],yr:[40,1215],tx:insetFrames.top4,ty:insetFrames.side4,color:'#5e5e5e',bottom:'#eeeeee'}
];
const shadeColor = s => echarts.color.lerp(s,[lowColor,highColor]);
const isMainCell = c => {
  let a=1e9,b=-1e9,d=1e9,e=-1e9;
  for(let i=0;i<c.length;i+=2){a=Math.min(a,c[i]);b=Math.max(b,c[i]);d=Math.min(d,c[i+1]);e=Math.max(e,c[i+1]);}
  return b-a>60&&e-d>60;
};

// Neighbouring cells were read separately, so join corners that lie close together.
function joinCorners(cells, shades, reach){
  const refs=[];
  const out=cells.map((c,k)=>{
    const copy=c.slice();
    if(shades[k]>=0&&isMainCell(c))for(let i=0;i<c.length;i+=2)refs.push([copy,i]);
    return copy;
  });
  const used=new Set();
  refs.forEach((r,i)=>{
    if(used.has(i))return;
    const group=[r];used.add(i);
    refs.forEach((q,j)=>{
      if(used.has(j))return;
      if(Math.hypot(q[0][q[1]]-r[0][r[1]],q[0][q[1]+1]-r[0][r[1]+1])<reach){group.push(q);used.add(j);}
    });
    const mx=group.reduce((s,q)=>s+q[0][q[1]],0)/group.length,my=group.reduce((s,q)=>s+q[0][q[1]+1],0)/group.length;
    group.forEach(q=>{q[0][q[1]]=mx;q[0][q[1]+1]=my;});
  });
  return out;
}

// Corners on the coast are carried just past the silhouette, so the white mask trims their outer edges.
function carryPastCoast(cells, shades, outlines, near, beyond){
  const inside=(x,y,o)=>{
    let hit=false;
    for(let i=0,n=o.length/2,j=n-1;i<n;j=i++){
      const xi=o[2*i],yi=o[2*i+1],xj=o[2*j],yj=o[2*j+1];
      if((yi>y)!==(yj>y)&&x<(xj-xi)*(y-yi)/(yj-yi)+xi)hit=!hit;
    }
    return hit;
  };
  return cells.map((c,k)=>{
    if(shades[k]<0||!isMainCell(c))return c;
    const out=c.slice();
    for(let v=0;v<c.length;v+=2){
      const x=c[v],y=c[v+1];
      let best=1e9,bx=x,by=y,bo=null;
      outlines.forEach(o=>{
        for(let i=0,n=o.length/2;i<n;i++){
          const ax=o[2*i],ay=o[2*i+1],cx=o[(2*i+2)%o.length],cy=o[(2*i+3)%o.length];
          const dx=cx-ax,dy=cy-ay,t=Math.max(0,Math.min(1,((x-ax)*dx+(y-ay)*dy)/(dx*dx+dy*dy||1)));
          const px=ax+t*dx,py=ay+t*dy,dd=Math.hypot(x-px,y-py);
          if(dd<best){best=dd;bx=px;by=py;bo=o;}
        }
      });
      if(best<near&&best>0.5){
        const sign=inside(x,y,bo)?1:-1;
        out[v]=bx+sign*(bx-x)/best*beyond;
        out[v+1]=by+sign*(by-y)/best*beyond;
      }
    }
    return out;
  });
}

const grids = [{left:259,top:570,width:1316,height:734}];
const xAxes = [{
  type:'value',gridIndex:0,min:-0.1164,max:0.5193,position:'bottom',
  axisLine:{show:false,onZero:false},splitLine:{show:false},
  axisTick:{show:true,length:12,customValues:xTicks,lineStyle:{color:'#333333',width:3.5}},
  axisLabel:{show:true,customValues:xTicks,margin:21,fontSize:36,color:'#4D4D4D',fontFamily,formatter:v=>Number(v).toFixed(1)},
  name:xTitle,nameLocation:'middle',nameGap:65,nameTextStyle:{fontSize:45.5,color:'#000',fontFamily}
}];
const yAxes = [{
  type:'value',gridIndex:0,min:0.0018,max:0.3438,position:'left',
  axisLine:{show:false,onZero:false},splitLine:{show:false},
  axisTick:{show:true,length:12,customValues:yTicks,lineStyle:{color:'#333333',width:3.5}},
  axisLabel:{show:true,customValues:yTicks,margin:22,fontSize:36,color:'#4D4D4D',fontFamily,padding:[5,0,0,0],formatter:v=>Number(v).toFixed(1)},
  name:yTitle,nameLocation:'middle',nameGap:97,nameTextStyle:{fontSize:46,color:'#000',fontFamily}
}];

const series = [];

// gridlines and panel border
const gridLineData = [
  ...xMinor.map(v=>[v,0.1,0]),...yMinor.map(v=>[0,v,1]),
  ...xTicks.map(v=>[v,0.1,2]),...yTicks.map(v=>[0,v,3])
];
series.push({
  type:'custom',xAxisIndex:0,yAxisIndex:0,z:1,silent:true,data:gridLineData,
  renderItem(params,api){
    const kind=api.value(2),cs=params.coordSys,p=api.coord([api.value(0),api.value(1)]);
    const vertical=kind%2===0;
    return {type:'line',shape:vertical?{x1:p[0],y1:cs.y,x2:p[0],y2:cs.y+cs.height}:{x1:cs.x,y1:p[1],x2:cs.x+cs.width,y2:p[1]},
      style:{stroke:kind>=2?'#EBEBEB':'#F0F0F0',lineWidth:kind>=2?3.6:2}};
  }
});
series.push({
  type:'custom',xAxisIndex:0,yAxisIndex:0,z:6,silent:true,data:[[0,0.1]],
  renderItem(params){
    const cs=params.coordSys;
    return {type:'rect',shape:{x:cs.x,y:cs.y,width:cs.width,height:cs.height},style:{fill:'none',stroke:'#333333',lineWidth:2.6}};
  }
});
// black points
series.push({type:'scatter',xAxisIndex:0,yAxisIndex:0,z:2,silent:true,symbolSize:19.5,itemStyle:{color:'#000',opacity:1},data:blackPoints,clip:false});
// arrows
series.push({
  type:'custom',xAxisIndex:0,yAxisIndex:0,z:3,silent:true,clip:false,
  data:redPoints.map((p,i)=>[p[0],p[1],arrowTargets[i][0],arrowTargets[i][1]]),
  renderItem(params,api){
    const a=api.coord([api.value(0),api.value(1)]),b=api.coord([api.value(2),api.value(3)]);
    const ang=Math.atan2(b[1]-a[1],b[0]-a[0]),L=24,W=11;
    const bx=b[0]-L*Math.cos(ang),by=b[1]-L*Math.sin(ang);
    const nx=-Math.sin(ang),ny=Math.cos(ang);
    return {type:'group',children:[
      {type:'line',shape:{x1:a[0],y1:a[1],x2:bx,y2:by},style:{stroke:arrowColor,lineWidth:arrowWidths[params.dataIndex]}},
      {type:'polygon',shape:{points:[b,[bx+nx*W,by+ny*W],[bx-nx*W,by-ny*W]]},style:{fill:arrowColor}}
    ]};
  }
});
// red points
series.push({type:'scatter',xAxisIndex:0,yAxisIndex:0,z:4,silent:true,symbolSize:19.5,itemStyle:{color:'#FF0000',opacity:1},data:redPoints,clip:false});

// insets
insets.forEach((ins,k)=>{
  const g=k+1;
  const joined=carryPastCoast(joinCorners(ins.cells,ins.shades,15),ins.shades,ins.outlines,24,16);
  grids.push({left:ins.left,top:ins.top,width:ins.width,height:ins.height});
  xAxes.push({type:'value',gridIndex:g,min:ins.xr[0],max:ins.xr[1],show:false});
  yAxes.push({type:'value',gridIndex:g,min:ins.yr[0],max:ins.yr[1],inverse:true,show:false});
  const toPts=(c,api)=>{const pts=[];for(let i=0;i<c.length;i+=2)pts.push(api.coord([c[i],c[i+1]]));return pts;};
  // base silhouette
  series.push({
    type:'custom',xAxisIndex:g,yAxisIndex:g,z:1,silent:true,
    data:ins.oshades.map((s,i)=>[ins.xr[0],ins.yr[0],s,i]),
    renderItem(params,api){
      return {type:'polygon',shape:{points:toPts(ins.outlines[api.value(3)],api)},style:{fill:shadeColor(api.value(2))}};
    }
  });
  // cells
  series.push({
    type:'custom',xAxisIndex:g,yAxisIndex:g,z:2,silent:true,
    data:ins.shades.map((s,i)=>[ins.xr[0],ins.yr[0],s,i]),
    renderItem(params,api){
      const s=api.value(2);
      return {type:'polygon',shape:{points:toPts(joined[api.value(3)],api)},
        style:s<0?{fill:'#fff',stroke:'#fff',lineWidth:0.5}:{fill:shadeColor(s),stroke:'#F2F6FA',lineWidth:1.2}};
    }
  });
  // everything outside the silhouette is trimmed off with a white mask
  series.push({
    type:'custom',xAxisIndex:g,yAxisIndex:g,z:3,silent:true,data:[[ins.xr[0],ins.yr[0]]],
    renderItem(params,api){
      const cs=params.coordSys;
      let d=`M${cs.x} ${cs.y}L${cs.x+cs.width} ${cs.y}L${cs.x+cs.width} ${cs.y+cs.height}L${cs.x} ${cs.y+cs.height}Z`;
      ins.outlines.forEach(o=>{
        let pts=toPts(o,api),area=0;
        pts.forEach((p,i)=>{const q=pts[(i+1)%pts.length];area+=p[0]*q[1]-q[0]*p[1];});
        if(area>0)pts=pts.slice().reverse();
        d+='M'+pts.map(p=>p[0].toFixed(2)+' '+p[1].toFixed(2)).join('L')+'Z';
      });
      return {type:'path',shape:{pathData:d,layout:'cover',x:cs.x,y:cs.y,width:cs.width,height:cs.height},style:{fill:'#fff'}};
    }
  });
  // frame with its small gaps
  series.push({
    type:'custom',xAxisIndex:g,yAxisIndex:g,z:4,silent:true,data:[[ins.xr[0],ins.yr[0]]],
    renderItem(params,api){
      const cs=params.coordSys,x0=cs.x,y0=cs.y,x1=cs.x+cs.width,y1=cs.y+cs.height;
      const seg=(a,b,c,d,col,w)=>({type:'line',shape:{x1:a,y1:b,x2:c,y2:d},style:{stroke:col,lineWidth:w}});
      const kids=[seg(x0,y0,x1,y0,ins.color,2),seg(x0,y0,x0,y1,ins.color,2),seg(x1,y0,x1,y1,ins.color,2),seg(x0,y1,x1,y1,ins.bottom,2)];
      ins.tx.forEach(v=>{const x=api.coord([v,ins.yr[0]])[0];kids.push(seg(x,y0-2,x,y0+2,'#fff',1.6),seg(x,y1-2,x,y1+2,'#fff',1.6));});
      ins.ty.forEach(v=>{const y=api.coord([ins.xr[0],v])[1];kids.push(seg(x0-2,y,x0+2,y,'#fff',1.6),seg(x1-2,y,x1+2,y,'#fff',1.6));});
      return {type:'group',children:kids};
    }
  });
});

const chart = echarts.init(document.getElementById('c'),null,{renderer:'canvas',width:2400,height:1500});
chart.setOption({animation:false,backgroundColor:'#fff',grid:grids,xAxis:xAxes,yAxis:yAxes,series});
</script>
</body>
</html>
